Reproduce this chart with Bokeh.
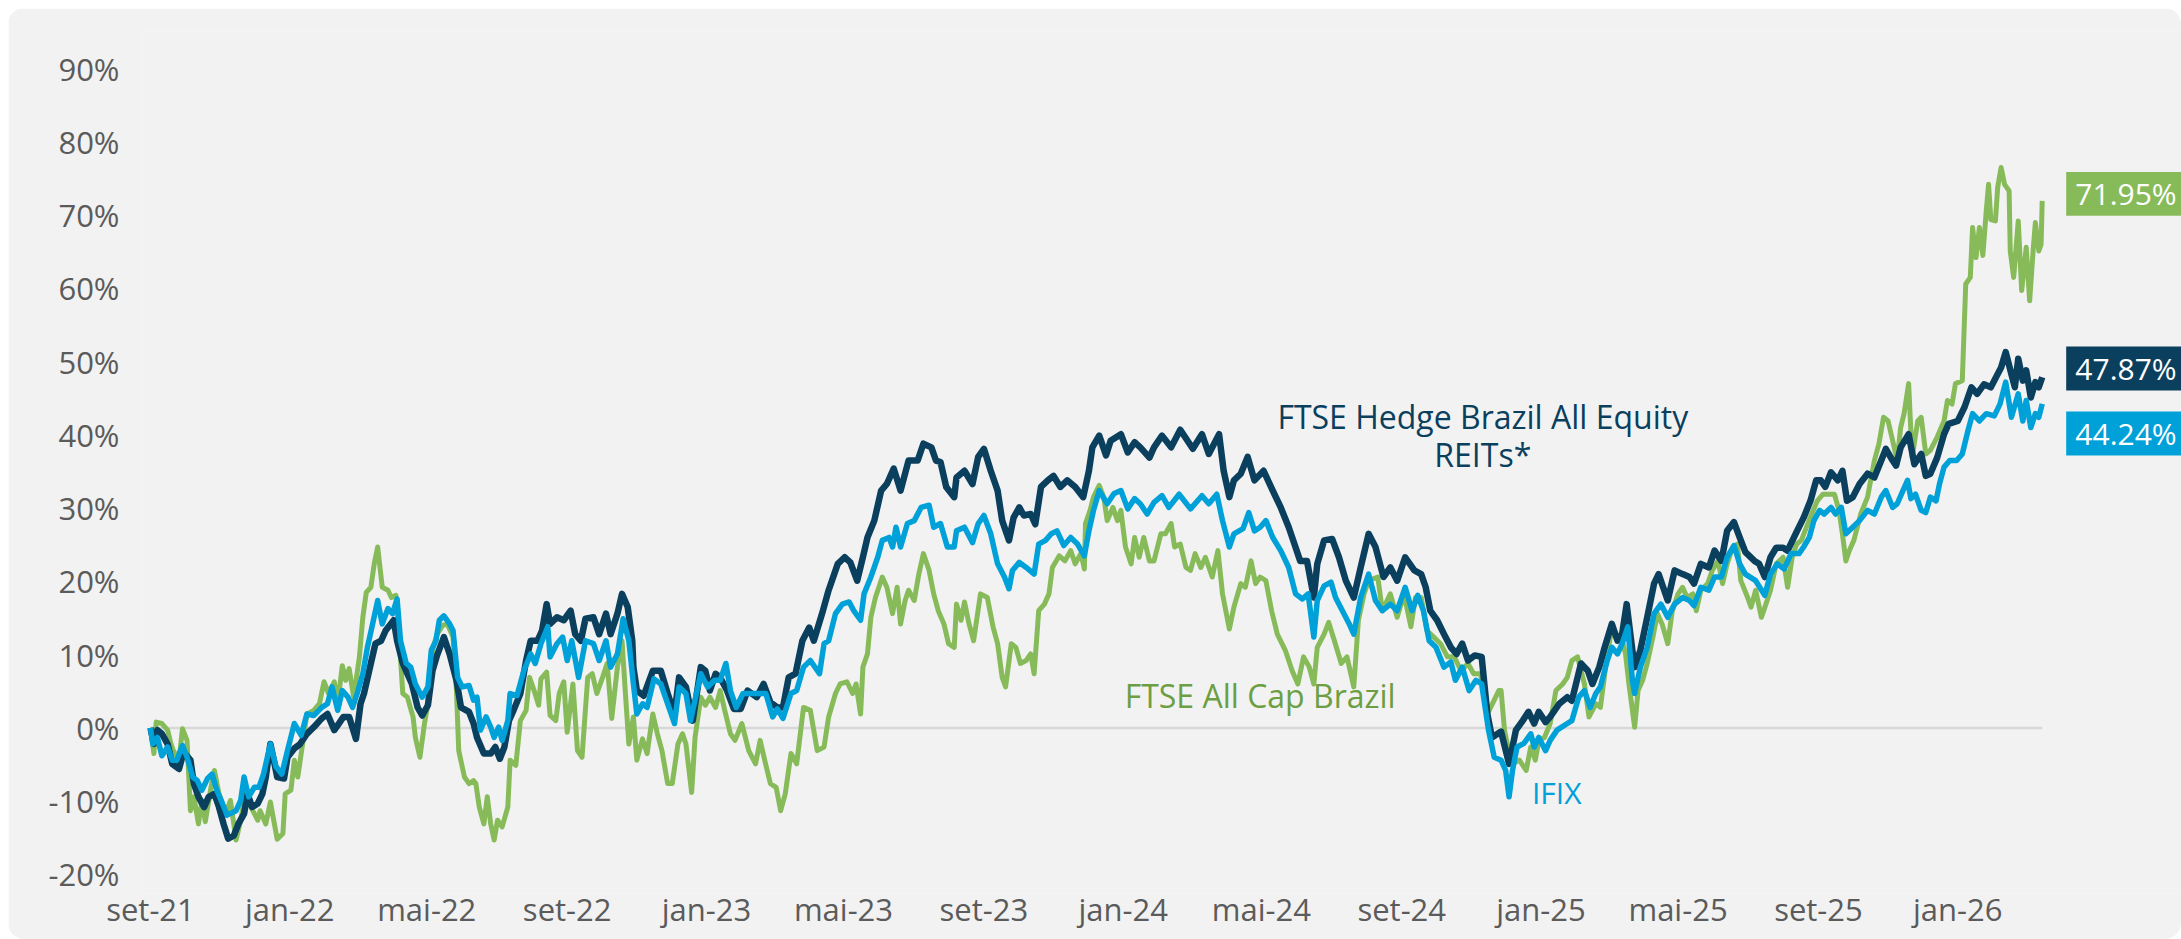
import pandas as pd
from bokeh.plotting import figure
from bokeh.models import Range1d, FixedTicker, PrintfTickFormatter, CustomJSTickFormatter, Label
from bokeh.embed import file_html
from bokeh.resources import INLINE

# ---------------- data (cumulative return, %) ----------------
hedge = [("2021-09-01",0.0),("2021-09-04",-2.2),("2021-09-07",-0.3),("2021-09-11",-0.8),("2021-09-16",-2.2),("2021-09-20",-4.9),("2021-09-26",-5.6),("2021-09-30",-3.3),("2021-10-06",-4.4),("2021-10-09",-7.6),("2021-10-13",-9.4),("2021-10-18",-10.8),("2021-10-22",-9.4),("2021-10-27",-9.0),("2021-10-31",-10.8),("2021-11-04",-13.1),("2021-11-08",-15.1),("2021-11-13",-14.7),("2021-11-17",-13.1),("2021-11-22",-11.7),("2021-11-25",-9.0),("2021-11-29",-10.8),("2021-12-04",-10.3),("2021-12-08",-9.0),("2021-12-11",-6.7),("2021-12-15",-2.2),("2021-12-18",-4.4),("2021-12-21",-6.7),("2021-12-27",-6.9),("2021-12-30",-4.0),("2022-01-05",-2.8),("2022-01-10",-2.2),("2022-01-16",-0.8),("2022-01-22",0.1),("2022-01-29",1.3),("2022-02-03",1.9),("2022-02-09",-0.3),("2022-02-13",0.6),("2022-02-17",1.5),("2022-02-22",1.5),("2022-02-28",-1.5),("2022-03-04",3.3),("2022-03-07",4.7),("2022-03-13",8.8),("2022-03-17",11.5),("2022-03-22",11.9),("2022-03-26",13.3),("2022-04-02",14.7),("2022-04-05",11.9),("2022-04-10",8.8),("2022-04-14",7.4),("2022-04-18",6.0),("2022-04-23",2.8),("2022-04-27",1.7),("2022-05-02",3.1),("2022-05-06",7.8),("2022-05-10",9.9),("2022-05-16",12.4),("2022-05-21",10.1),("2022-05-27",6.5),("2022-05-31",2.8),("2022-06-07",2.2),("2022-06-11",0.6),("2022-06-14",-1.3),("2022-06-20",-3.5),("2022-06-26",-3.5),("2022-06-30",-2.6),("2022-07-04",-4.2),("2022-07-08",-2.6),("2022-07-12",1.0),("2022-07-16",2.4),("2022-07-22",4.7),("2022-07-27",9.2),("2022-07-31",11.9),("2022-08-06",11.9),("2022-08-10",13.3),("2022-08-14",16.9),("2022-08-17",14.2),("2022-08-23",15.1),("2022-08-29",14.7),("2022-09-04",16.0),("2022-09-08",12.8),("2022-09-13",11.9),("2022-09-17",14.9),("2022-09-24",15.1),("2022-09-29",12.8),("2022-10-05",15.6),("2022-10-09",12.8),("2022-10-15",15.6),("2022-10-19",18.3),("2022-10-24",16.5),("2022-10-28",11.9),("2022-10-29",8.3),("2022-11-01",5.1),("2022-11-07",4.4),("2022-11-15",7.8),("2022-11-22",7.8),("2022-11-28",4.7),("2022-12-04",1.9),("2022-12-08",6.9),("2022-12-14",5.6),("2022-12-20",1.0),("2022-12-27",8.3),("2022-12-31",7.8),("2023-01-04",5.1),("2023-01-09",7.4),("2023-01-13",6.9),("2023-01-19",5.1),("2023-01-25",2.6),("2023-01-31",2.6),("2023-02-06",5.1),("2023-02-14",4.2),("2023-02-20",6.0),("2023-02-26",3.5),("2023-03-04",2.8),("2023-03-09",2.8),("2023-03-14",6.9),("2023-03-20",7.4),("2023-03-26",11.9),("2023-04-01",13.7),("2023-04-05",11.9),("2023-04-13",16.0),("2023-04-18",18.8),("2023-04-26",22.4),("2023-05-02",23.3),("2023-05-07",22.6),("2023-05-13",20.1),("2023-05-18",23.3),("2023-05-22",26.0),("2023-05-28",28.3),("2023-06-03",32.4),("2023-06-08",33.3),("2023-06-14",35.4),("2023-06-20",32.4),("2023-06-27",36.5),("2023-07-05",36.5),("2023-07-10",38.8),("2023-07-17",38.3),("2023-07-21",36.5),("2023-07-25",36.3),("2023-07-30",32.9),("2023-08-06",31.5),("2023-08-08",34.2),("2023-08-15",35.1),("2023-08-22",33.3),("2023-08-27",37.0),("2023-09-01",38.1),("2023-09-07",35.1),("2023-09-13",32.4),("2023-09-17",28.3),("2023-09-23",25.6),("2023-09-27",28.7),("2023-10-02",30.1),("2023-10-06",29.0),("2023-10-12",29.2),("2023-10-16",27.8),("2023-10-21",32.9),("2023-10-27",33.8),("2023-11-01",34.4),("2023-11-07",32.9),("2023-11-13",33.8),("2023-11-20",32.9),("2023-11-27",31.5),("2023-12-02",35.1),("2023-12-05",38.3),("2023-12-11",39.9),("2023-12-17",37.2),("2023-12-21",39.2),("2023-12-30",40.1),("2024-01-05",37.6),("2024-01-11",39.0),("2024-01-16",38.3),("2024-01-24",36.9),("2024-01-28",38.3),("2024-02-04",39.9),("2024-02-12",38.3),("2024-02-20",40.7),("2024-03-02",38.1),("2024-03-10",40.1),("2024-03-16",37.4),("2024-03-25",40.1),("2024-03-29",35.1),("2024-04-03",31.5),("2024-04-07",33.8),("2024-04-13",34.7),("2024-04-19",37.0),("2024-04-25",33.8),("2024-05-03",35.1),("2024-05-11",32.4),("2024-05-18",30.1),("2024-05-25",27.4),("2024-05-30",25.1),("2024-06-04",22.8),("2024-06-10",22.8),("2024-06-16",17.8),("2024-06-19",22.4),("2024-06-25",25.6),("2024-07-02",25.8),("2024-07-08",23.3),("2024-07-14",20.1),("2024-07-21",17.8),("2024-07-27",21.9),("2024-08-03",26.5),("2024-08-09",24.7),("2024-08-16",20.6),("2024-08-22",21.9),("2024-08-28",20.1),("2024-09-04",23.3),("2024-09-12",21.5),("2024-09-18",21.0),("2024-09-22",19.2),("2024-09-26",16.0),("2024-10-02",14.7),("2024-10-08",12.8),("2024-10-14",11.0),("2024-10-19",10.1),("2024-10-24",11.5),("2024-10-29",9.2),("2024-11-04",9.9),("2024-11-10",9.7),("2024-11-15",1.9),("2024-11-19",-1.3),("2024-11-27",-0.5),("2024-12-04",-4.9),("2024-12-10",-0.3),("2024-12-16",1.0),("2024-12-21",2.2),("2024-12-26",0.6),("2024-12-30",2.2),("2025-01-05",0.8),("2025-01-09",1.5),("2025-01-17",3.3),("2025-01-24",4.2),("2025-01-28",3.7),("2025-02-05",8.8),("2025-02-11",7.8),("2025-02-15",6.0),("2025-02-21",8.3),("2025-02-25",10.6),("2025-03-04",14.2),("2025-03-09",11.9),("2025-03-13",12.8),("2025-03-17",16.9),("2025-03-22",10.6),("2025-03-24",8.3),("2025-03-29",10.6),("2025-04-04",15.1),("2025-04-10",19.7),("2025-04-14",21.0),("2025-04-22",17.4),("2025-04-28",21.5),("2025-05-05",21.0),("2025-05-11",20.6),("2025-05-15",19.7),("2025-05-21",22.4),("2025-05-28",21.9),("2025-06-02",24.2),("2025-06-08",22.8),("2025-06-13",26.9),("2025-06-19",28.1),("2025-06-24",26.0),("2025-06-29",24.0),("2025-07-07",22.8),("2025-07-11",22.4),("2025-07-16",20.6),("2025-07-21",23.3),("2025-07-26",24.6),("2025-08-01",24.6),("2025-08-05",24.2),("2025-08-12",26.5),("2025-08-19",28.7),("2025-08-25",31.0),("2025-08-30",33.8),("2025-09-03",33.8),("2025-09-07",32.9),("2025-09-12",34.9),("2025-09-18",33.8),("2025-09-22",35.1),("2025-09-26",31.0),("2025-10-01",31.5),("2025-10-07",33.3),("2025-10-14",34.7),("2025-10-20",34.2),("2025-10-26",36.5),("2025-10-30",38.1),("2025-11-05",36.5),("2025-11-08",35.8),("2025-11-12",38.3),("2025-11-19",40.1),("2025-11-24",36.0),("2025-11-30",37.4),("2025-12-04",34.4),("2025-12-08",34.7),("2025-12-14",36.9),("2025-12-20",40.1),("2025-12-24",41.5),("2026-01-01",41.9),("2026-01-07",43.8),("2026-01-13",46.5),("2026-01-18",45.6),("2026-01-24",46.9),("2026-01-30",46.5),("2026-02-05",48.3),("2026-02-08",49.2),("2026-02-12",51.3),("2026-02-17",48.3),("2026-02-20",46.5),("2026-02-23",50.4),("2026-02-27",47.4),("2026-03-02",48.8),("2026-03-06",45.1),("2026-03-10",47.2),("2026-03-13",46.5),("2026-03-16",47.87)]

ifix = [("2021-09-01",0.0),("2021-09-03",-2.2),("2021-09-07",-1.3),("2021-09-11",-3.8),("2021-09-16",-2.6),("2021-09-20",-4.4),("2021-09-24",-4.4),("2021-09-29",-2.4),("2021-10-03",-4.0),("2021-10-08",-6.7),("2021-10-12",-7.2),("2021-10-16",-8.5),("2021-10-21",-6.9),("2021-10-25",-6.3),("2021-10-29",-8.5),("2021-11-03",-10.3),("2021-11-07",-11.9),("2021-11-15",-11.3),("2021-11-19",-9.9),("2021-11-22",-6.7),("2021-11-26",-9.4),("2021-12-01",-8.1),("2021-12-05",-8.1),("2021-12-09",-6.3),("2021-12-15",-2.2),("2021-12-20",-5.3),("2021-12-25",-6.3),("2021-12-30",-3.1),("2022-01-05",0.6),("2022-01-11",-1.0),("2022-01-16",1.9),("2022-01-22",1.7),("2022-01-29",2.8),("2022-02-03",3.3),("2022-02-07",5.6),("2022-02-12",2.4),("2022-02-16",5.1),("2022-02-21",4.2),("2022-02-25",2.8),("2022-03-01",4.7),("2022-03-06",7.4),("2022-03-10",11.0),("2022-03-14",13.8),("2022-03-19",17.4),("2022-03-23",14.2),("2022-03-28",16.3),("2022-04-01",15.6),("2022-04-05",17.6),("2022-04-08",11.9),("2022-04-13",8.8),("2022-04-17",8.3),("2022-04-21",6.0),("2022-04-27",4.2),("2022-05-02",5.6),("2022-05-05",10.6),("2022-05-09",11.9),("2022-05-12",14.7),("2022-05-16",15.3),("2022-05-21",14.2),("2022-05-24",13.3),("2022-05-28",6.9),("2022-06-01",5.6),("2022-06-07",5.8),("2022-06-11",3.8),("2022-06-14",4.2),("2022-06-17",-0.3),("2022-06-22",1.5),("2022-06-26",0.1),("2022-06-29",-1.3),("2022-07-03",0.1),("2022-07-06",-1.7),("2022-07-11",1.0),("2022-07-13",4.7),("2022-07-19",4.4),("2022-07-25",7.8),("2022-07-31",10.1),("2022-08-04",8.8),("2022-08-09",11.5),("2022-08-15",13.8),("2022-08-17",9.7),("2022-08-23",11.5),("2022-08-28",12.4),("2022-09-01",9.2),("2022-09-05",11.9),("2022-09-11",6.9),("2022-09-17",11.9),("2022-09-24",11.5),("2022-09-29",9.2),("2022-10-05",11.9),("2022-10-09",8.3),("2022-10-15",10.1),("2022-10-20",14.9),("2022-10-25",11.9),("2022-10-29",6.0),("2022-11-01",1.9),("2022-11-06",3.3),("2022-11-10",2.8),("2022-11-16",6.7),("2022-11-22",6.0),("2022-11-28",3.3),("2022-12-04",0.6),("2022-12-08",5.6),("2022-12-14",4.7),("2022-12-18",1.0),("2022-12-27",7.4),("2023-01-02",5.6),("2023-01-08",6.5),("2023-01-13",6.5),("2023-01-18",8.8),("2023-01-22",5.1),("2023-01-27",2.8),("2023-02-02",4.7),("2023-02-09",4.7),("2023-02-16",4.7),("2023-02-22",4.7),("2023-02-28",1.5),("2023-03-04",2.6),("2023-03-09",1.3),("2023-03-16",4.7),("2023-03-21",5.1),("2023-03-27",8.3),("2023-04-02",9.2),("2023-04-10",7.4),("2023-04-14",11.5),("2023-04-18",11.9),("2023-04-24",15.6),("2023-04-30",16.9),("2023-05-06",17.2),("2023-05-10",16.0),("2023-05-16",14.7),("2023-05-19",18.3),("2023-05-25",20.6),("2023-05-31",23.3),("2023-06-04",25.6),("2023-06-10",26.0),("2023-06-13",24.7),("2023-06-16",27.4),("2023-06-20",24.7),("2023-06-26",27.9),("2023-07-02",28.3),("2023-07-08",30.1),("2023-07-15",30.4),("2023-07-19",27.4),("2023-07-25",27.9),("2023-07-31",24.7),("2023-08-06",24.7),("2023-08-08",26.9),("2023-08-15",27.4),("2023-08-22",25.3),("2023-08-27",27.9),("2023-09-01",29.0),("2023-09-07",26.5),("2023-09-13",22.4),("2023-09-19",20.6),("2023-09-23",19.0),("2023-09-26",21.5),("2023-10-02",22.6),("2023-10-08",21.9),("2023-10-15",21.0),("2023-10-19",25.1),("2023-10-25",25.6),("2023-10-30",26.5),("2023-11-04",26.9),("2023-11-10",24.9),("2023-11-16",26.0),("2023-11-22",25.1),("2023-11-28",23.5),("2023-12-02",26.9),("2023-12-06",29.7),("2023-12-11",32.4),("2023-12-18",30.6),("2023-12-24",32.0),("2023-12-30",32.4),("2024-01-05",29.9),("2024-01-11",31.3),("2024-01-16",30.6),("2024-01-22",29.2),("2024-01-28",30.8),("2024-02-04",31.7),("2024-02-10",30.1),("2024-02-19",31.9),("2024-02-29",29.9),("2024-03-10",31.7),("2024-03-16",30.6),("2024-03-23",31.9),("2024-03-28",28.3),("2024-04-03",24.7),("2024-04-07",26.5),("2024-04-15",27.2),("2024-04-20",29.4),("2024-04-25",26.9),("2024-04-30",27.4),("2024-05-05",28.3),("2024-05-11",26.0),("2024-05-18",24.2),("2024-05-25",21.9),("2024-05-31",18.3),("2024-06-06",17.6),("2024-06-11",18.3),("2024-06-16",12.4),("2024-06-19",17.4),("2024-06-25",19.4),("2024-07-01",19.9),("2024-07-05",17.8),("2024-07-11",16.0),("2024-07-17",14.2),("2024-07-21",12.8),("2024-07-27",17.8),("2024-08-03",21.0),("2024-08-09",17.4),("2024-08-15",16.0),("2024-08-22",16.9),("2024-08-28",16.0),("2024-09-04",19.2),("2024-09-10",16.0),("2024-09-15",18.1),("2024-09-20",16.0),("2024-09-25",11.9),("2024-10-01",11.0),("2024-10-08",8.3),("2024-10-14",9.0),("2024-10-18",6.5),("2024-10-24",8.3),("2024-10-30",5.1),("2024-11-05",6.5),("2024-11-10",6.0),("2024-11-16",-0.3),("2024-11-21",-4.0),("2024-11-27",-4.4),("2024-12-01",-5.8),("2024-12-04",-9.4),("2024-12-07",-5.8),("2024-12-11",-2.6),("2024-12-17",-2.1),("2024-12-23",-0.8),("2024-12-26",-2.6),("2024-12-30",-1.3),("2025-01-05",-3.1),("2025-01-09",-1.7),("2025-01-15",-0.3),("2025-01-24",0.6),("2025-01-28",1.0),("2025-02-03",4.2),("2025-02-08",5.1),("2025-02-13",2.8),("2025-02-18",4.7),("2025-02-22",5.6),("2025-02-28",9.2),("2025-03-04",11.0),("2025-03-09",10.1),("2025-03-13",11.5),("2025-03-18",13.8),("2025-03-22",6.5),("2025-03-24",4.7),("2025-03-29",8.3),("2025-04-04",11.0),("2025-04-10",15.6),("2025-04-16",16.9),("2025-04-22",15.1),("2025-04-28",16.9),("2025-05-05",17.8),("2025-05-11",17.4),("2025-05-15",16.7),("2025-05-21",19.2),("2025-05-28",18.8),("2025-06-02",20.6),("2025-06-08",20.6),("2025-06-13",23.3),("2025-06-19",24.9),("2025-06-24",22.4),("2025-06-29",21.0),("2025-07-08",20.1),("2025-07-16",18.1),("2025-07-21",21.0),("2025-07-27",22.4),("2025-08-02",21.7),("2025-08-08",23.8),("2025-08-15",23.8),("2025-08-19",24.7),("2025-08-24",26.0),("2025-08-28",28.3),("2025-09-02",29.7),("2025-09-06",29.2),("2025-09-12",30.1),("2025-09-16",29.2),("2025-09-21",30.1),("2025-09-25",26.5),("2025-10-01",27.4),("2025-10-07",28.3),("2025-10-14",29.7),("2025-10-20",29.2),("2025-10-26",31.5),("2025-10-30",32.4),("2025-11-05",30.1),("2025-11-09",30.6),("2025-11-14",32.4),("2025-11-18",33.8),("2025-11-21",31.3),("2025-11-25",31.9),("2025-11-30",29.7),("2025-12-04",29.4),("2025-12-08",31.5),("2025-12-13",31.0),("2025-12-16",33.3),("2025-12-20",35.6),("2025-12-25",36.5),("2025-12-31",36.5),("2026-01-05",37.4),("2026-01-10",40.6),("2026-01-14",42.9),("2026-01-20",41.9),("2026-01-26",42.9),("2026-02-02",42.6),("2026-02-07",44.2),("2026-02-12",47.2),("2026-02-17",42.4),("2026-02-23",45.6),("2026-02-27",41.9),("2026-03-02",44.7),("2026-03-06",41.0),("2026-03-10",42.9),("2026-03-13",42.4),("2026-03-16",44.24)]

allcap = [("2021-09-01",0.0),("2021-09-04",-3.5),("2021-09-06",0.8),("2021-09-11",0.6),("2021-09-16",-0.3),("2021-09-19",-2.2),("2021-09-21",-3.1),("2021-09-26",-4.4),("2021-09-29",-0.1),("2021-10-03",-1.7),("2021-10-06",-11.3),("2021-10-09",-9.4),("2021-10-13",-13.1),("2021-10-16",-9.9),("2021-10-19",-12.8),("2021-10-24",-8.1),("2021-10-27",-5.8),("2021-10-31",-9.0),("2021-11-06",-11.7),("2021-11-10",-9.9),("2021-11-15",-15.3),("2021-11-19",-12.6),("2021-11-23",-9.0),("2021-11-28",-10.8),("2021-12-04",-12.6),("2021-12-06",-11.3),("2021-12-11",-13.1),("2021-12-15",-10.1),("2021-12-21",-15.2),("2021-12-26",-14.4),("2021-12-28",-9.0),("2022-01-02",-8.5),("2022-01-05",-4.4),("2022-01-08",-6.7),("2022-01-11",-3.5),("2022-01-16",1.9),("2022-01-22",2.4),("2022-01-27",3.3),("2022-01-31",6.3),("2022-02-04",4.7),("2022-02-09",6.3),("2022-02-12",3.3),("2022-02-16",8.5),("2022-02-19",6.5),("2022-02-22",8.1),("2022-02-26",4.2),("2022-03-03",9.7),("2022-03-06",15.1),("2022-03-09",18.5),("2022-03-13",19.2),("2022-03-16",22.4),("2022-03-19",24.7),("2022-03-23",19.2),("2022-03-28",18.8),("2022-03-31",17.8),("2022-04-04",18.1),("2022-04-07",11.9),("2022-04-10",4.7),("2022-04-14",4.2),("2022-04-19",1.5),("2022-04-21",-1.3),("2022-04-25",-4.0),("2022-04-29",0.6),("2022-05-02",3.3),("2022-05-06",10.6),("2022-05-10",12.8),("2022-05-15",14.0),("2022-05-19",14.2),("2022-05-24",12.4),("2022-05-27",5.1),("2022-05-29",-3.1),("2022-06-03",-6.7),("2022-06-07",-7.6),("2022-06-11",-7.2),("2022-06-13",-7.6),("2022-06-16",-10.8),("2022-06-20",-13.1),("2022-06-23",-9.4),("2022-06-26",-13.1),("2022-06-29",-15.3),("2022-07-02",-12.6),("2022-07-06",-13.5),("2022-07-11",-10.8),("2022-07-13",-4.4),("2022-07-18",-5.1),("2022-07-22",1.0),("2022-07-27",2.4),("2022-07-30",6.9),("2022-08-03",5.1),("2022-08-07",3.1),("2022-08-09",6.7),("2022-08-14",7.6),("2022-08-17",1.7),("2022-08-22",1.0),("2022-08-25",4.7),("2022-08-29",6.3),("2022-09-01",-0.6),("2022-09-06",6.0),("2022-09-10",-3.1),("2022-09-14",-4.0),("2022-09-19",6.9),("2022-09-23",7.4),("2022-09-27",4.7),("2022-10-02",6.9),("2022-10-06",8.8),("2022-10-10",1.3),("2022-10-15",8.3),("2022-10-19",11.9),("2022-10-22",4.7),("2022-10-25",-2.2),("2022-10-29",1.5),("2022-11-01",-4.4),("2022-11-06",-1.5),("2022-11-10",-3.5),("2022-11-15",1.9),("2022-11-19",-0.8),("2022-11-23",-3.1),("2022-11-28",-7.6),("2022-12-02",-7.6),("2022-12-07",-2.2),("2022-12-11",-0.8),("2022-12-14",-2.2),("2022-12-19",-8.8),("2022-12-22",-1.3),("2022-12-27",4.2),("2022-12-31",3.1),("2023-01-04",4.2),("2023-01-09",2.8),("2023-01-13",5.1),("2023-01-17",2.4),("2023-01-22",-0.8),("2023-01-26",-1.7),("2023-02-01",0.6),("2023-02-07",-3.1),("2023-02-13",-4.9),("2023-02-17",-1.7),("2023-02-21",-4.4),("2023-02-26",-7.6),("2023-03-03",-8.1),("2023-03-07",-11.3),("2023-03-11",-9.0),("2023-03-16",-3.5),("2023-03-21",-4.9),("2023-03-27",2.8),("2023-04-02",2.4),("2023-04-08",-3.1),("2023-04-14",-2.6),("2023-04-18",1.5),("2023-04-24",4.7),("2023-04-28",6.0),("2023-05-04",6.3),("2023-05-09",4.7),("2023-05-12",6.0),("2023-05-16",1.9),("2023-05-18",8.3),("2023-05-22",10.1),("2023-05-25",15.1),("2023-05-29",17.8),("2023-06-04",20.6),("2023-06-08",19.2),("2023-06-13",15.6),("2023-06-17",19.2),("2023-06-20",14.2),("2023-06-24",17.4),("2023-06-27",18.8),("2023-07-02",17.4),("2023-07-06",21.0),("2023-07-10",23.8),("2023-07-15",21.5),("2023-07-19",18.3),("2023-07-23",16.0),("2023-07-28",14.2),("2023-08-01",11.5),("2023-08-06",11.0),("2023-08-08",16.9),("2023-08-12",14.7),("2023-08-15",17.2),("2023-08-19",14.2),("2023-08-23",11.9),("2023-08-29",18.3),("2023-09-04",17.8),("2023-09-09",13.8),("2023-09-13",11.5),("2023-09-17",6.9),("2023-09-20",5.6),("2023-09-25",11.5),("2023-09-29",11.0),("2023-10-03",8.8),("2023-10-08",9.2),("2023-10-12",10.1),("2023-10-15",7.4),("2023-10-19",16.0),("2023-10-24",16.9),("2023-10-28",18.3),("2023-10-31",21.9),("2023-11-06",23.5),("2023-11-11",22.8),("2023-11-16",24.2),("2023-11-20",22.4),("2023-11-25",23.8),("2023-11-28",21.7),("2023-11-29",27.9),("2023-12-03",29.7),("2023-12-06",31.5),("2023-12-11",33.1),("2023-12-15",31.5),("2023-12-18",28.3),("2023-12-23",30.1),("2023-12-27",28.3),("2023-12-30",29.7),("2024-01-03",24.7),("2024-01-08",22.4),("2024-01-11",26.0),("2024-01-15",23.3),("2024-01-19",26.0),("2024-01-24",22.8),("2024-01-28",22.8),("2024-02-03",26.5),("2024-02-07",26.5),("2024-02-12",27.9),("2024-02-15",24.7),("2024-02-20",25.1),("2024-02-25",21.9),("2024-02-29",21.5),("2024-03-04",23.8),("2024-03-09",21.9),("2024-03-13",23.3),("2024-03-19",20.6),("2024-03-24",24.2),("2024-03-28",18.3),("2024-04-03",13.5),("2024-04-07",16.5),("2024-04-13",19.7),("2024-04-17",19.2),("2024-04-22",22.8),("2024-04-26",19.7),("2024-04-30",20.6),("2024-05-05",20.1),("2024-05-10",16.0),("2024-05-15",12.8),("2024-05-22",10.6),("2024-05-28",7.8),("2024-06-02",6.0),("2024-06-07",9.7),("2024-06-12",8.3),("2024-06-16",6.0),("2024-06-19",11.0),("2024-06-25",12.8),("2024-06-29",14.4),("2024-07-04",11.9),("2024-07-10",8.8),("2024-07-15",9.7),("2024-07-21",5.6),("2024-07-25",14.7),("2024-07-30",18.3),("2024-08-03",20.1),("2024-08-11",20.6),("2024-08-15",16.0),("2024-08-22",18.3),("2024-08-28",15.1),("2024-09-03",18.3),("2024-09-09",13.8),("2024-09-13",17.8),("2024-09-18",17.8),("2024-09-23",13.3),("2024-09-29",12.4),("2024-10-05",11.5),("2024-10-11",9.7),("2024-10-17",9.7),("2024-10-23",7.8),("2024-10-29",8.8),("2024-11-03",7.4),("2024-11-09",7.4),("2024-11-15",1.9),("2024-11-21",3.8),("2024-11-25",5.1),("2024-11-27",5.1),("2024-11-30",-0.3),("2024-12-03",-2.6),("2024-12-07",-4.9),("2024-12-13",-4.4),("2024-12-19",-5.8),("2024-12-23",-2.6),("2024-12-27",-4.4),("2024-12-30",-1.7),("2025-01-04",-1.3),("2025-01-09",0.6),("2025-01-14",5.1),("2025-01-20",6.0),("2025-01-24",6.9),("2025-01-28",9.2),("2025-02-02",9.7),("2025-02-08",6.0),("2025-02-12",1.5),("2025-02-18",3.3),("2025-02-22",2.8),("2025-02-27",8.8),("2025-03-03",12.8),("2025-03-08",12.4),("2025-03-12",12.8),("2025-03-16",10.1),("2025-03-19",6.0),("2025-03-24",0.1),("2025-03-27",5.1),("2025-03-31",6.5),("2025-04-04",8.8),("2025-04-09",12.4),("2025-04-13",15.6),("2025-04-17",14.2),("2025-04-22",11.5),("2025-04-26",16.0),("2025-05-01",18.3),("2025-05-05",19.2),("2025-05-09",17.8),("2025-05-14",18.3),("2025-05-17",16.0),("2025-05-21",18.8),("2025-05-27",19.7),("2025-05-31",21.5),("2025-06-05",22.8),("2025-06-09",19.7),("2025-06-13",22.4),("2025-06-18",24.7),("2025-06-22",25.1),("2025-06-25",20.1),("2025-07-01",17.8),("2025-07-04",16.5),("2025-07-08",18.8),("2025-07-13",15.1),("2025-07-17",16.9),("2025-07-21",18.8),("2025-07-26",22.4),("2025-08-01",23.3),("2025-08-05",19.2),("2025-08-09",23.3),("2025-08-13",25.1),("2025-08-17",25.6),("2025-08-25",28.8),("2025-08-31",31.0),("2025-09-05",31.9),("2025-09-10",31.9),("2025-09-15",31.9),("2025-09-19",29.7),("2025-09-22",26.5),("2025-09-25",22.8),("2025-09-28",24.2),("2025-10-02",25.6),("2025-10-08",29.2),("2025-10-14",31.5),("2025-10-20",36.5),("2025-10-24",38.8),("2025-10-28",42.4),("2025-11-01",41.9),("2025-11-05",39.2),("2025-11-09",36.5),("2025-11-12",41.0),("2025-11-15",42.9),("2025-11-19",47.0),("2025-11-22",36.9),("2025-11-27",41.9),("2025-11-30",42.4),("2025-12-04",37.4),("2025-12-08",37.9),("2025-12-14",39.7),("2025-12-20",41.9),("2025-12-23",44.7),("2025-12-27",44.2),("2025-12-30",47.0),("2026-01-05",47.4),("2026-01-08",60.6),("2026-01-12",61.5),("2026-01-14",68.3),("2026-01-17",64.2),("2026-01-20",68.3),("2026-01-23",64.5),("2026-01-26",70.6),("2026-01-28",74.2),("2026-01-30",69.4),("2026-02-03",69.2),("2026-02-05",73.8),("2026-02-08",76.5),("2026-02-11",74.2),("2026-02-15",73.3),("2026-02-16",65.1),("2026-02-19",61.5),("2026-02-23",69.2),("2026-02-26",59.7),("2026-03-02",65.6),("2026-03-05",58.3),("2026-03-08",65.1),("2026-03-10",69.0),("2026-03-13",65.1),("2026-03-15",66.0),("2026-03-16",71.95)]

tick_dates = ["2021-09-01", "2022-01-01", "2022-05-01", "2022-09-01", "2023-01-01", "2023-05-01", "2023-09-01",
              "2024-01-01", "2024-05-01", "2024-09-01", "2025-01-01", "2025-05-01", "2025-09-01", "2026-01-01"]
tick_labels = ["set-21", "jan-22", "mai-22", "set-22", "jan-23", "mai-23", "set-23",
               "jan-24", "mai-24", "set-24", "jan-25", "mai-25", "set-25", "jan-26"]
y_ticks = [-20, -10, 0, 10, 20, 30, 40, 50, 60, 70, 80, 90]

# ---------------- style ----------------
C_HEDGE = "#0b3f5e"
C_IFIX = "#00a1d8"
C_ALLCAP = "#87bb59"
C_ALLCAP_TXT = "#6c9f42"
BG = "#f2f2f2"
FONT = "Open Sans"


def ms(s):
    return pd.Timestamp(s).timestamp() * 1000.0


def split(pairs):
    return [pd.Timestamp(d) for d, _ in pairs], [v for _, v in pairs]


p = figure(width=2173, height=931, x_axis_type="datetime",
           x_range=Range1d(ms("2021-08-25"), ms("2026-07-16")),
           y_range=Range1d(-22.6, 95.2),
           output_backend="svg", toolbar_location=None,
           min_border_left=134, min_border_right=0, min_border_top=22, min_border_bottom=46,
           background_fill_color=BG, border_fill_color=BG, outline_line_color=None,
           margin=(8, 0, 0, 8))
p.styles = {"border-radius": "16px", "overflow": "hidden"}

p.xgrid.visible = False
p.ygrid.visible = False

for ax in (p.xaxis[0], p.yaxis[0]):
    ax.axis_line_color = None
    ax.major_tick_line_color = None
    ax.minor_tick_line_color = None
    ax.major_tick_out = 0
    ax.major_tick_in = 0
    ax.major_label_text_font = FONT
    ax.major_label_text_font_size = "31px"
    ax.major_label_text_color = "#5b5b5b"

tick_ms = [ms(d) for d in tick_dates]
p.xaxis.ticker = FixedTicker(ticks=tick_ms)
p.xaxis.formatter = CustomJSTickFormatter(args=dict(tick_vals=tick_ms, tick_names=tick_labels),
                                          code="const i = tick_vals.indexOf(tick); return i >= 0 ? tick_names[i] : '';")
p.xaxis.major_label_standoff = -6
p.yaxis.ticker = FixedTicker(ticks=y_ticks)
p.yaxis.formatter = PrintfTickFormatter(format="%d%%")
p.yaxis.major_label_standoff = 23

# zero line across the data period
hx, hy = split(hedge)
p.line([hx[0], hx[-1]], [0, 0], line_color="#d8d8d8", line_width=2.5)

ax_, ay_ = split(allcap)
ix, iy = split(ifix)
p.line(ax_, ay_, line_color=C_ALLCAP, line_width=5, line_join="round")
p.line(hx, hy, line_color=C_HEDGE, line_width=6.5, line_join="round")
p.line(ix, iy, line_color=C_IFIX, line_width=5.5, line_join="round")

# series annotations
p.add_layout(Label(x=ms("2024-11-11"), y=42.5, text="FTSE Hedge Brazil All Equity", text_align="center",
                   text_baseline="alphabetic", text_font=FONT, text_font_size="32px", text_color=C_HEDGE))
p.add_layout(Label(x=ms("2024-11-11"), y=37.3, text="REITs*", text_align="center",
                   text_baseline="alphabetic", text_font=FONT, text_font_size="32px", text_color=C_HEDGE))
p.add_layout(Label(x=ms("2024-04-30"), y=4.4, text="FTSE All Cap Brazil", text_align="center",
                   text_baseline="alphabetic", text_font=FONT, text_font_size="32px", text_color=C_ALLCAP_TXT))
p.add_layout(Label(x=ms("2024-12-24"), y=-8.8, text="IFIX", text_align="left",
                   text_baseline="alphabetic", text_font=FONT, text_font_size="30px", text_color=C_IFIX))

# end-value boxes
box_left = ms("2026-04-06")
box_right = ms("2026-07-16")
text_x = ms("2026-04-14")
for pairs, color, yc in ((allcap, C_ALLCAP, 72.9), (hedge, C_HEDGE, 49.05), (ifix, C_IFIX, 40.2)):
    last = pairs[-1][1]
    p.quad(left=[box_left], right=[box_right], bottom=[yc - 3.0], top=[yc + 3.0],
           fill_color=color, line_color=None)
    p.add_layout(Label(x=text_x, y=yc, text=f"{last:.2f}%", text_align="left", text_baseline="middle",
                       text_font=FONT, text_font_size="30px", text_color="white"))

open("out.html", "w").write(file_html(p, INLINE))
